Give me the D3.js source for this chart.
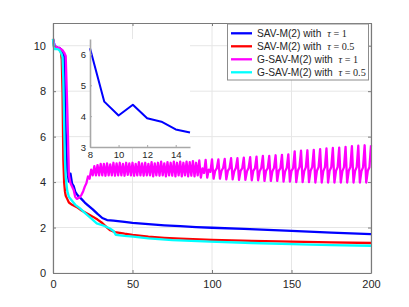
<!DOCTYPE html>
<html>
<head>
<meta charset="utf-8">
<script src="https://cdn.jsdelivr.net/npm/d3@7"></script>
<style>
  html, body { margin: 0; padding: 0; background: #fff; }
  svg { display: block; font-family: "Liberation Sans", Arial, sans-serif; }
</style>
</head>
<body>
<div id="chart"></div>
<script>
// energy curves

const xTicks = [0, 50, 100, 150, 200];
const yTicks = [0, 2, 4, 6, 8, 10];
const insetXTicks = [8, 10, 12, 14];
const insetYTicks = [3, 4, 5, 6];

const seriesNames = [
  "SAV-M(2) with ", "SAV-M(2) with ", "G-SAV-M(2) with ", "G-SAV-M(2) with "
];
const tauLabels = ["\u03C4 = 1", "\u03C4 = 0.5", "\u03C4 = 1", "\u03C4 = 0.5"];
const seriesColors = ["#0000ff", "#ff0000", "#ff00ff", "#00ffff"];

// SAV-M(2), tau = 1
const blueX = [0, 1, 2, 3, 4, 5, 6, 7, 8, 9, 10, 11, 12, 13, 14, 15, 16, 18, 20, 22, 25, 28, 31, 34, 38, 45, 50, 60, 70, 80, 90, 100, 120, 150, 175, 200];
const blueY = [10.3, 10.0, 9.95, 9.9, 9.9, 9.85, 9.75, 9.6, 6.2, 4.47, 4.02, 4.37, 3.93, 3.82, 3.57, 3.47, 3.38, 3.25, 3.1, 2.98, 2.8, 2.6, 2.42, 2.33, 2.3, 2.25, 2.21, 2.15, 2.1, 2.06, 2.02, 1.99, 1.94, 1.85, 1.78, 1.71];

// SAV-M(2), tau = 0.5
const redX = [0, 0.5, 1, 2, 3, 4, 5, 5.5, 6, 6.5, 7, 7.5, 8, 9, 10, 12, 15, 18, 22, 25, 28, 31, 34, 36, 39, 45, 50, 60, 70, 80, 100, 125, 150, 175, 200];
const redY = [10.3, 10.0, 9.95, 9.9, 9.9, 9.85, 9.7, 9.4, 8.0, 5.0, 4.0, 3.6, 3.4, 3.25, 3.1, 3.0, 2.9, 2.75, 2.6, 2.48, 2.35, 2.2, 2.0, 1.88, 1.8, 1.73, 1.68, 1.6, 1.55, 1.51, 1.46, 1.41, 1.38, 1.35, 1.32];

// G-SAV-M(2), tau = 1, one value per step 0..200
const magentaY = [
  10.3, 10.0, 9.95, 9.9, 9.9, 9.85, 9.8, 9.7, 9.55, 7.2,
  4.3, 3.95, 3.8, 3.65, 3.35, 3.26, 3.3, 3.35, 3.45, 3.6,
  3.8, 3.95, 4.25, 4.15, 4.55, 4.3, 4.7, 4.3, 4.75, 4.3,
  4.8, 4.3, 4.8, 4.28, 4.82, 4.3, 4.78, 4.3, 4.85, 4.28,
  4.82, 4.3, 4.85, 4.3, 4.8, 4.28, 4.85, 4.32, 4.82, 4.3,
  4.85, 4.28, 4.8, 4.3, 4.88, 4.3, 4.82, 4.28, 4.85, 4.3,
  4.8, 4.3, 4.88, 4.25, 4.82, 4.3, 4.85, 4.28, 4.9, 4.3,
  4.82, 4.25, 4.88, 4.3, 4.85, 4.28, 4.9, 4.25, 4.85, 4.3,
  4.9, 4.25, 4.85, 4.3, 4.9, 4.25, 4.88, 4.28, 4.92, 4.25,
  4.85, 4.3, 4.95, 4.2, 4.6, 4.4, 4.98, 4.2, 4.55, 4.45,
  5.0, 4.15, 4.5, 4.6, 5.0, 4.15, 4.5, 4.62, 5.02, 4.12,
  4.5, 4.6, 5.05, 4.12, 4.48, 4.62, 5.05, 4.1, 4.5, 4.6,
  5.08, 4.1, 4.48, 4.62, 5.1, 4.08, 4.5, 4.6, 5.12, 4.08,
  4.48, 4.62, 5.15, 4.05, 4.5, 4.6, 5.15, 4.05, 4.48, 4.62,
  5.18, 4.05, 4.5, 4.6, 5.2, 4.02, 4.48, 4.62, 5.22, 4.02,
  4.5, 4.6, 5.35, 4.0, 4.5, 4.65, 5.38, 4.0, 4.48, 4.65,
  5.4, 4.0, 4.5, 4.65, 5.42, 3.98, 4.5, 4.65, 5.45, 3.98,
  4.48, 4.65, 5.48, 3.98, 4.5, 4.65, 5.5, 3.98, 4.5, 4.65,
  5.52, 3.98, 4.48, 4.65, 5.55, 3.98, 4.5, 4.65, 5.58, 3.98,
  4.5, 4.65, 5.6, 3.98, 4.48, 4.65, 5.62, 3.98, 4.5, 4.65,
  5.62
];

// G-SAV-M(2), tau = 0.5
const cyanX = [0, 0.5, 1, 2, 3, 4, 5, 6, 6.5, 7, 7.5, 8, 9, 10, 11.7, 14, 17, 20, 24, 27.5, 32, 35.8, 38, 39.5, 45, 50.5, 60, 75, 98.7, 125, 150, 175, 200];
const cyanY = [10.3, 9.95, 9.85, 9.85, 9.85, 9.8, 9.7, 9.5, 8.5, 6.5, 5.0, 4.2, 3.6, 3.35, 3.2, 3.0, 2.84, 2.65, 2.4, 2.18, 2.08, 1.96, 1.85, 1.68, 1.63, 1.6, 1.52, 1.45, 1.38, 1.32, 1.27, 1.23, 1.2];

// inset: zoom on SAV-M(2), tau = 1
const insetX = [8, 9, 10, 11, 12, 13, 14, 15];
const insetY = [6.2, 4.47, 4.02, 4.37, 3.93, 3.82, 3.57, 3.47];

const W = 409, H = 307;
const M = { top: 23, right: 38, bottom: 34, left: 53 };
const iW = W - M.left - M.right;
const iH = H - M.top - M.bottom;

const svg = d3.select("#chart").append("svg")
  .attr("width", W).attr("height", H);

const x = d3.scaleLinear().domain([0, 200]).range([M.left, M.left + iW]);
const y = d3.scaleLinear().domain([0, 11]).range([M.top + iH, M.top]);

// grid
svg.append("g").selectAll("line").data(xTicks).enter().append("line")
  .attr("x1", d => x(d)).attr("x2", d => x(d))
  .attr("y1", M.top).attr("y2", M.top + iH)
  .attr("stroke", "#e6e6e6").attr("stroke-width", 1);
svg.append("g").selectAll("line").data(yTicks).enter().append("line")
  .attr("x1", M.left).attr("x2", M.left + iW)
  .attr("y1", d => y(d)).attr("y2", d => y(d))
  .attr("stroke", "#e6e6e6").attr("stroke-width", 1);

const line = d3.line().x(d => x(d[0])).y(d => y(d[1]));
const zip = (xs, ys) => xs.map((v, i) => [v, ys[i]]);

const magentaPts = magentaY.map((v, i) => [i, v]);
const data = [zip(blueX, blueY), zip(redX, redY), magentaPts, zip(cyanX, cyanY)];

const plot = svg.append("g");
data.forEach((pts, i) => {
  plot.append("path").datum(pts)
    .attr("d", line)
    .attr("fill", "none")
    .attr("stroke", seriesColors[i])
    .attr("stroke-width", 2.3)
    .attr("stroke-linejoin", "round");
});

// axes (box with inward ticks on every side)
const axisColor = "#7a7a7a";
function styleAxis(g) {
  g.select(".domain").attr("stroke", axisColor).attr("stroke-width", 1.2);
  g.selectAll(".tick line").attr("stroke", axisColor);
  g.selectAll(".tick text").attr("fill", "#262626").attr("font-size", 11);
}
svg.append("g").attr("transform", `translate(0,${M.top + iH})`)
  .call(d3.axisBottom(x).tickValues(xTicks).tickSizeInner(-3).tickSizeOuter(0).tickPadding(7))
  .call(styleAxis);
svg.append("g").attr("transform", `translate(${M.left},0)`)
  .call(d3.axisLeft(y).tickValues(yTicks).tickSizeInner(-3).tickSizeOuter(0).tickPadding(7))
  .call(styleAxis);
svg.append("g").attr("transform", `translate(0,${M.top})`)
  .call(d3.axisTop(x).tickValues(xTicks).tickSizeInner(-3).tickSizeOuter(0).tickFormat(""))
  .call(styleAxis);
svg.append("g").attr("transform", `translate(${M.left + iW},0)`)
  .call(d3.axisRight(y).tickValues(yTicks).tickSizeInner(-3).tickSizeOuter(0).tickFormat(""))
  .call(styleAxis);

// inset
const ix = d3.scaleLinear().domain([8, 15]).range([90, 190]);
const iy = d3.scaleLinear().domain([3, 6.5]).range([147, 39]);
svg.append("rect").attr("x", 90).attr("y", 39).attr("width", 100).attr("height", 108)
  .attr("fill", "#fff");
svg.append("path").datum(zip(insetX, insetY))
  .attr("d", d3.line().x(d => ix(d[0])).y(d => iy(d[1])))
  .attr("fill", "none").attr("stroke", "#0000ff").attr("stroke-width", 2)
  .attr("stroke-linejoin", "round");
function styleInset(g) {
  g.select(".domain").attr("stroke", "#a8a8a8").attr("stroke-width", 1.6);
  g.selectAll(".tick line").attr("stroke", "#a8a8a8");
  g.selectAll(".tick text").attr("fill", "#262626").attr("font-size", 9.5);
}
svg.append("g").attr("transform", "translate(0,147)")
  .call(d3.axisBottom(ix).tickValues(insetXTicks).tickFormat(d3.format("d"))
    .tickSizeInner(-2).tickSizeOuter(0).tickPadding(4))
  .call(styleInset);
svg.append("g").attr("transform", "translate(90,0)")
  .call(d3.axisLeft(iy).tickValues(insetYTicks).tickFormat(d3.format("d"))
    .tickSizeInner(-2).tickSizeOuter(0).tickPadding(4))
  .call(styleInset);

// legend
const lg = svg.append("g");
lg.append("rect").attr("x", 227.5).attr("y", 24).attr("width", 141).attr("height", 56)
  .attr("fill", "#fff").attr("stroke", "#8c8c8c").attr("stroke-width", 1);
seriesNames.forEach((name, i) => {
  const yy = 33.3 + i * 13;
  lg.append("line").attr("x1", 231).attr("x2", 252).attr("y1", yy).attr("y2", yy)
    .attr("stroke", seriesColors[i]).attr("stroke-width", 2.3);
  const t = lg.append("text").attr("x", 257).attr("y", yy + 3.6)
    .attr("font-size", 10.2).attr("fill", "#262626");
  t.append("tspan").text(name);
  t.append("tspan").attr("font-family", "'Liberation Serif', serif")
    .attr("font-style", "italic").attr("dx", 3).text(tauLabels[i].slice(0, 1));
  t.append("tspan").attr("font-family", "'Liberation Serif', serif")
    .text(tauLabels[i].slice(1));
});
</script>
</body>
</html>
